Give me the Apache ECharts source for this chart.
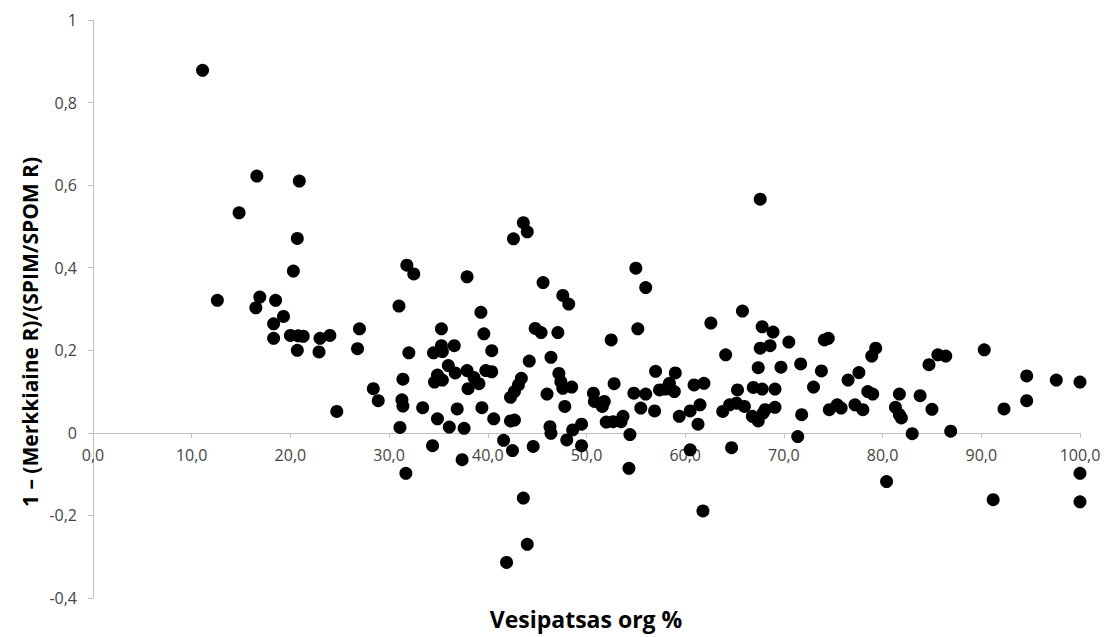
<!DOCTYPE html>
<html>
<head>
<meta charset="utf-8">
<script src="https://cdn.jsdelivr.net/npm/echarts@6/dist/echarts.min.js"></script>
<style>
html,body{margin:0;padding:0;background:#fff;}
#chart{width:1104px;height:637px;}
</style>
</head>
<body>
<div id="chart"></div>
<script>
const xAxisTitle = 'Vesipatsas org %';
const yAxisTitle = '1 \u2013 (Merkkiaine R)/(SPIM/SPOM R)';

const xValues = [
  11.1,12.6,14.8,16.6,16.5,16.9,18.5,18.3,18.3,19.3,20.3,20.0,20.8,21.3,20.7,20.9,20.7,23.0,24.0,22.9,24.7,27.0,26.8,28.4,28.9,
  43.6,44.0,42.6,31.8,32.5,37.9,45.6,47.6,48.2,31.0,39.3,35.3,39.6,44.8,45.4,47.1,32.0,34.5,35.3,36.6,35.4,40.4,44.2,46.4,36.0,
  36.7,37.9,39.8,40.4,34.9,34.6,35.4,38.6,39.1,38.0,31.4,31.3,31.4,33.4,36.9,39.4,34.9,36.1,37.6,31.1,40.6,42.3,42.7,43.4,43.1,
  42.7,42.3,46.0,47.2,47.4,47.6,48.5,47.8,46.3,46.4,41.6,34.4,37.4,31.7,42.5,44.6,48.0,43.6,44.0,41.9,
  55.0,56.0,55.2,52.5,62.6,65.8,64.1,57.0,59.0,52.8,50.7,50.8,51.8,51.6,54.8,56.0,57.4,58.0,58.4,58.9,60.9,61.9,61.5,60.5,59.4,
  61.3,55.5,56.9,52.0,52.7,53.5,53.7,54.4,49.5,48.6,49.5,60.5,64.7,65.3,63.8,64.5,65.2,66.0,66.8,67.4,66.9,67.4,67.6,67.8,67.6,
  54.3,61.8,
  68.9,68.6,70.5,74.1,74.5,79.3,78.9,84.7,85.6,86.4,69.7,71.7,73.8,76.5,77.6,73.0,67.8,69.1,78.5,79.0,81.7,83.8,69.1,74.6,75.4,
  75.8,77.2,78.0,81.3,81.7,81.9,85.0,67.9,68.1,71.8,71.4,83.0,86.9,80.4,90.3,94.6,97.6,100.0,92.3,94.6,100.0,100.0,91.2
];
const yValues = [
  0.878,0.321,0.533,0.622,0.303,0.329,0.321,0.264,0.229,0.282,0.392,0.236,0.235,0.234,0.200,0.610,0.471,0.229,0.236,0.196,0.052,0.252,0.204,0.107,0.078,
  0.509,0.487,0.470,0.406,0.385,0.378,0.364,0.333,0.312,0.307,0.292,0.252,0.240,0.253,0.243,0.243,0.194,0.194,0.211,0.211,0.197,0.199,0.174,0.183,0.163,
  0.145,0.151,0.151,0.148,0.140,0.123,0.128,0.134,0.119,0.107,0.130,0.080,0.065,0.061,0.058,0.061,0.034,0.014,0.011,0.013,0.034,0.029,0.031,0.132,0.116,
  0.100,0.086,0.094,0.144,0.124,0.108,0.111,0.064,0.015,-0.001,-0.018,-0.031,-0.065,-0.098,-0.043,-0.033,-0.017,-0.158,-0.270,-0.314,
  0.399,0.352,0.252,0.225,0.266,0.295,0.189,0.149,0.145,0.119,0.096,0.076,0.076,0.064,0.096,0.094,0.104,0.106,0.120,0.100,0.116,0.120,0.068,0.053,0.040,
  0.021,0.060,0.053,0.026,0.027,0.027,0.040,-0.004,0.021,0.007,-0.031,-0.041,-0.036,0.104,0.052,0.068,0.072,0.064,0.040,0.029,0.110,0.158,0.205,0.257,0.566,
  -0.086,-0.189,
  0.244,0.211,0.220,0.225,0.229,0.205,0.186,0.165,0.189,0.186,0.159,0.167,0.150,0.128,0.146,0.111,0.106,0.106,0.100,0.094,0.094,0.090,0.062,0.056,0.068,
  0.060,0.068,0.056,0.062,0.044,0.036,0.057,0.048,0.056,0.044,-0.009,-0.002,0.004,-0.118,0.201,0.138,0.128,0.123,0.058,0.078,-0.098,-0.167,-0.162
];

const yMin = -0.4, yMax = 1, yStep = 0.2;
const xMin = 0, xMax = 100, xStep = 10;

const points = xValues.map((x, i) => [x, yValues[i]]);

const W = 1104, H = 637;
const gridLeft = 93, gridRight = 24, gridTop = 20, gridBottom = 39;
const gridH = H - gridTop - gridBottom;
// move the x axis up to where y = 0 sits
const zeroOffset = -gridH * (0 - yMin) / (yMax - yMin);

const chart = echarts.init(document.getElementById('chart'), null, {renderer: 'svg'});
const fontFam = '"Open Sans", Lato, sans-serif';
const axisGray = '#bfbfbf';
const labelColor = '#454545';

chart.setOption({
  animation: false,
  backgroundColor: '#ffffff',
  grid: {left: gridLeft, right: gridRight, top: gridTop, bottom: gridBottom, containLabel: false},
  xAxis: {
    type: 'value', min: xMin, max: xMax, interval: xStep,
    position: 'bottom',
    offset: zeroOffset,
    axisLine: {show: true, onZero: false, lineStyle: {color: axisGray, width: 1}},
    axisTick: {show: true, length: 5, lineStyle: {color: axisGray}},
    splitLine: {show: false},
    axisLabel: {
      color: labelColor, fontSize: 16, fontFamily: fontFam, margin: 14,
      formatter: v => v.toFixed(1).replace('.', ',')
    }
  },
  yAxis: {
    type: 'value', min: yMin, max: yMax, interval: yStep,
    axisLine: {show: true, onZero: false, lineStyle: {color: axisGray, width: 1}},
    axisTick: {show: true, length: 5, lineStyle: {color: axisGray}},
    splitLine: {show: false},
    axisLabel: {
      color: labelColor, fontSize: 16, fontFamily: fontFam, margin: 16,
      formatter: v => {
        const r = Math.round(v * 10) / 10;
        if (r === 0) return '0';
        if (r === 1) return '1';
        return r.toFixed(1).replace('.', ',');
      }
    }
  },
  graphic: [
    {
      type: 'text', x: 586, y: 619,
      style: {text: xAxisTitle, font: 'bold 23px ' + fontFam, fill: '#000', align: 'center', verticalAlign: 'middle'}
    },
    {
      type: 'text', x: 30, y: 332, rotation: Math.PI / 2,
      style: {text: yAxisTitle, font: 'bold 21px ' + fontFam, fill: '#000', align: 'center', verticalAlign: 'middle'}
    }
  ],
  series: [{
    type: 'scatter',
    data: points,
    symbol: 'circle',
    symbolSize: 13,
    itemStyle: {color: '#000000', opacity: 1}
  }]
});
</script>
</body>
</html>
